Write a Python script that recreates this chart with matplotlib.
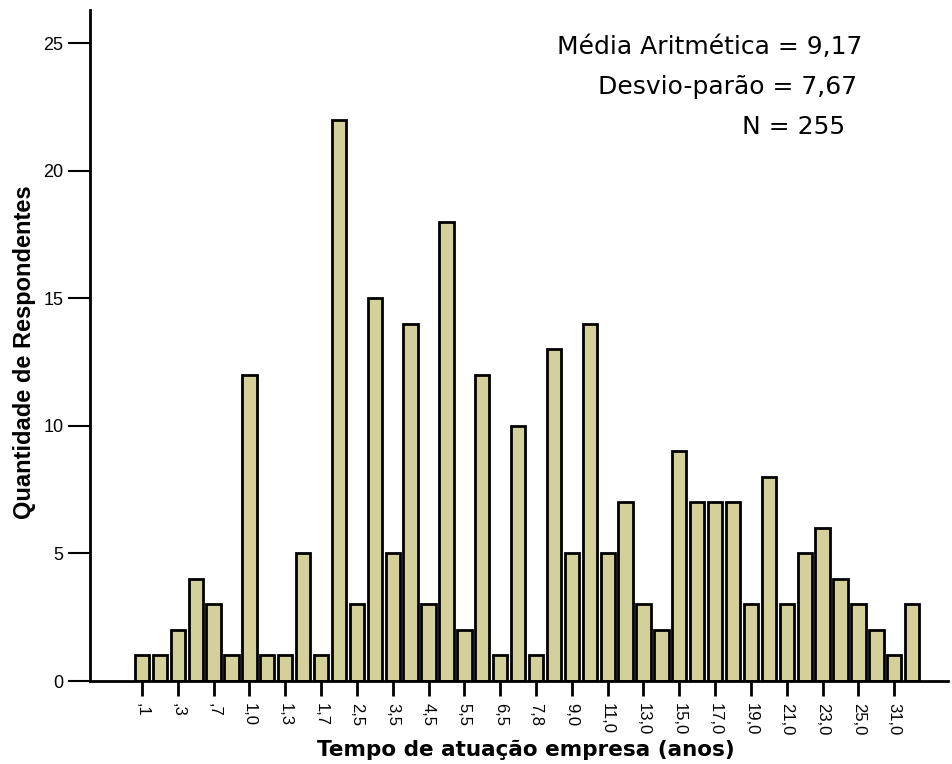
import numpy as np
import matplotlib
matplotlib.use("Agg")
import matplotlib.pyplot as plt

# counts per category (one bar each)
counts = [1, 1, 2, 4, 3, 1, 12, 1, 1, 5, 1, 22, 3, 15, 5, 14, 3, 18, 2, 12, 1, 10,
          1, 13, 5, 14, 5, 7, 3, 2, 9, 7, 7, 7, 3, 8, 3, 5, 6, 4, 3, 2, 1, 3]
# labels shown on every other bar
tick_labels = [",1", ",3", ",7", "1,0", "1,3", "1,7", "2,5", "3,5", "4,5", "5,5", "6,5",
               "7,8", "9,0", "11,0", "13,0", "15,0", "17,0", "19,0", "21,0", "23,0",
               "25,0", "31,0"]
stats = ["Média Aritmética = 9,17", "Desvio-parão = 7,67", "N = 255"]

plt.rcParams['font.family'] = ['Liberation Sans', 'DejaVu Sans']

W, H = 953, 764
fig = plt.figure(figsize=(W / 100, H / 100), dpi=100)
ax = fig.add_axes([90 / W, 1 - 681 / H, (948 - 90) / W, (681 - 10) / H])

x = np.arange(len(counts))
ax.bar(x, counts, width=0.8, color="#d4d09a", edgecolor="black", linewidth=2, zorder=2)

ax.set_xlim(-2.9, 45.0)
ax.set_ylim(0, 26.3)
ax.set_yticks([0, 5, 10, 15, 20, 25])
ax.set_xticks(x[::2])
ax.set_xticklabels(tick_labels, rotation=-90, fontsize=12)
ax.tick_params(axis='y', labelsize=13, length=16, width=1.5, pad=3)
ax.tick_params(axis='x', length=11, width=2, pad=5)

for s in ["top", "right"]:
    ax.spines[s].set_visible(False)
ax.spines["left"].set_linewidth(2)
ax.spines["bottom"].set_linewidth(2)

fig.text(25 / W, 1 - 352 / H, "Quantidade de Respondentes", rotation=90,
         ha="center", va="center", fontsize=17, fontweight="bold")
fig.text(526 / W, 1 - 750 / H, "Tempo de atuação empresa (anos)",
         ha="center", va="center", fontsize=15.5, fontweight="bold",
         family="DejaVu Sans")

rights = [862, 857, 845]
ys = [47, 87, 127]
for t, r, yy in zip(stats, rights, ys):
    fig.text(r / W, 1 - yy / H, t, ha="right", va="center", fontsize=18,
             family="DejaVu Sans")

fig.savefig("out.png", dpi=100)
